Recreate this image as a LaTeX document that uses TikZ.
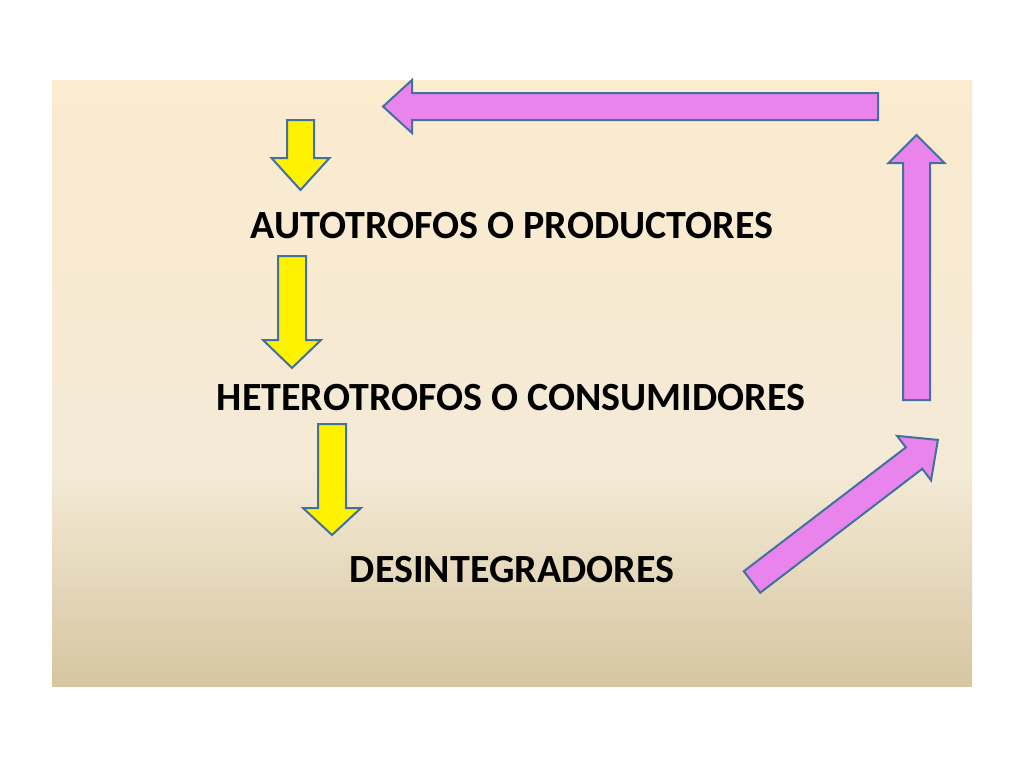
\documentclass[tikz,border=0pt]{standalone}
\usepackage{fontspec}
\setmainfont{Carlito}
\usetikzlibrary{positioning}
\definecolor{edgeblue}{HTML}{41719C}
\definecolor{violetfill}{HTML}{E884EC}
\definecolor{bgtop}{HTML}{FBEBCF}
\definecolor{bgmid}{HTML}{F4EAD6}
\definecolor{bgbot}{HTML}{D6C6A0}
\tikzset{
  yellowarrow/.style={draw=edgeblue, line width=2pt, fill=yellow, line join=miter},
  violetarrow/.style={draw=edgeblue, line width=2pt, fill=violetfill, line join=miter},
  level/.style={font=\bfseries\fontsize{40}{44}\selectfont}
}
% style, start, angle, length, head length, shaft half width, head half width
\newcommand{\blockarrow}[7]{%
  \begin{scope}[shift={#2},rotate=#3]
    \draw[#1] (0,-#6)--(#4-#5,-#6)--(#4-#5,-#7)--(#4,0)--(#4-#5,#7)--(#4-#5,#6)--(0,#6)--cycle;
  \end{scope}}
\begin{document}
\begin{tikzpicture}[x=1pt,y=-1pt]
   \useasboundingbox (0,0) rectangle (1024,768);
   \fill[white] (0,0) rectangle (1024,768);
   \shade[top color=bgtop, bottom color=bgmid] (52,80) rectangle (972,471);
   \shade[top color=bgmid, bottom color=bgbot] (52,470) rectangle (972,686);

   \node[level] (auto) at (512,226) {AUTOTROFOS O PRODUCTORES};
   \node[level] (het)  at (511,398) {HETEROTROFOS O CONSUMIDORES};
   \node[level] (des)  at (512,570) {DESINTEGRADORES};

   \blockarrow{yellowarrow}{(300.5,120)}{-90}{70}{32}{13.5}{29}
   \blockarrow{yellowarrow}{(292,256)}{-90}{112}{28}{14}{29}
   \blockarrow{yellowarrow}{(332,424)}{-90}{111}{27}{14}{29}

   \blockarrow{violetarrow}{(752,582)}{37.4}{234}{30}{13.5}{28}
   \blockarrow{violetarrow}{(916.5,400)}{90}{265}{28}{13.5}{28}
   \blockarrow{violetarrow}{(878,106.5)}{180}{495}{29}{13.5}{26.5}
\end{tikzpicture}
\end{document}
